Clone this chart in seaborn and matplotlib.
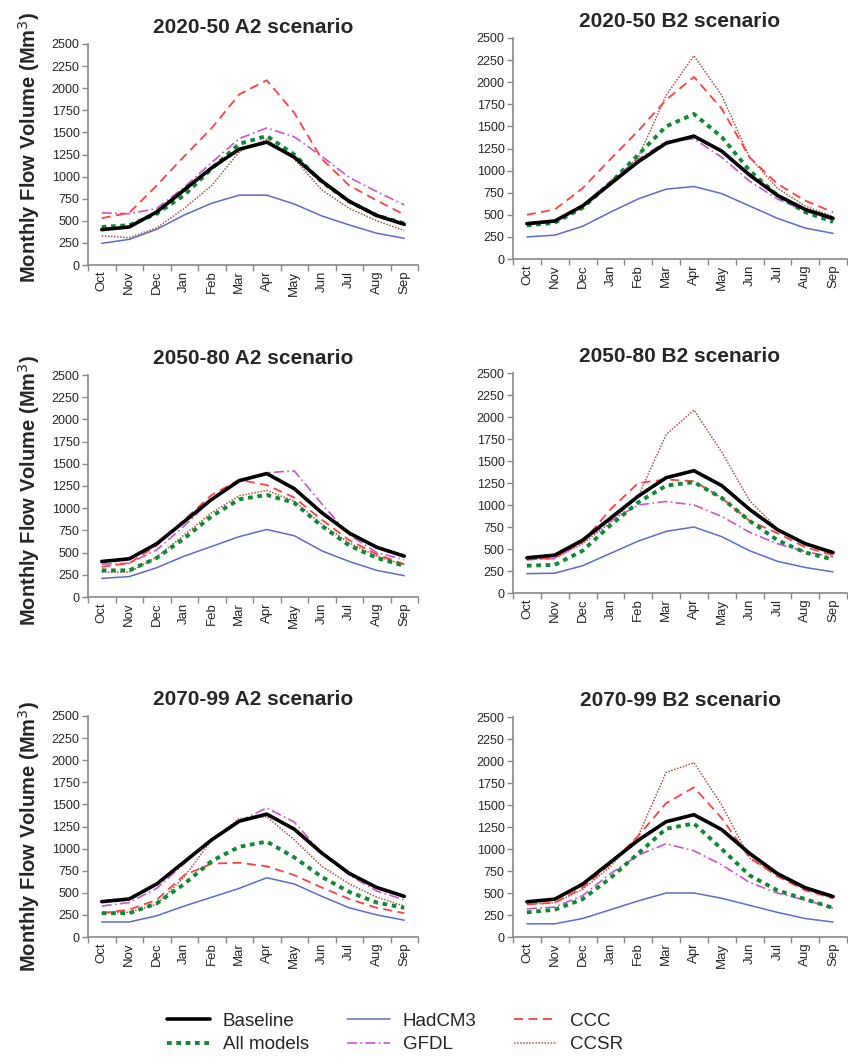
import numpy as np
import pandas as pd
import matplotlib
matplotlib.use("Agg")
import matplotlib.pyplot as plt
import seaborn as sns

# -----------------------------
# DATA
# -----------------------------

months = ["Oct", "Nov", "Dec", "Jan", "Feb", "Mar",
          "Apr", "May", "Jun", "Jul", "Aug", "Sep"]

baseline = [400, 430, 600, 850, 1100, 1310, 1390, 1220, 950, 720, 560, 460]

titles = ["2020-50 A2 scenario", "2020-50 B2 scenario",
          "2050-80 A2 scenario", "2050-80 B2 scenario",
          "2070-99 A2 scenario", "2070-99 B2 scenario"]

hadcm3 = [
    [245, 290, 404, 566, 699, 790, 790, 690, 555, 453, 359, 302],
    [250, 270, 370, 530, 680, 790, 820, 740, 600, 460, 350, 290],
    [210, 230, 330, 460, 570, 680, 760, 690, 520, 400, 300, 240],
    [220, 225, 310, 450, 590, 700, 750, 640, 480, 360, 290, 240],
    [170, 170, 240, 350, 450, 550, 670, 600, 460, 330, 250, 190],
    [150, 150, 210, 310, 410, 500, 500, 440, 360, 280, 210, 170],
]

ccc = [
    [530, 590, 900, 1230, 1550, 1930, 2090, 1720, 1200, 900, 730, 570],
    [500, 560, 800, 1130, 1450, 1800, 2060, 1700, 1150, 850, 660, 530],
    [340, 380, 580, 870, 1150, 1320, 1260, 1120, 870, 640, 480, 370],
    [380, 400, 580, 950, 1250, 1290, 1270, 1080, 820, 680, 520, 430],
    [270, 310, 420, 700, 830, 840, 800, 700, 560, 430, 330, 270],
    [370, 390, 560, 830, 1150, 1520, 1700, 1350, 900, 690, 530, 440],
]

gfdl = [
    [590, 580, 640, 880, 1160, 1430, 1550, 1450, 1230, 990, 830, 680],
    [390, 420, 610, 880, 1130, 1330, 1360, 1150, 880, 680, 540, 440],
    [370, 380, 530, 800, 1100, 1300, 1400, 1420, 1050, 700, 500, 420],
    [380, 390, 580, 820, 1000, 1040, 1000, 870, 690, 560, 470, 410],
    [350, 390, 550, 830, 1100, 1310, 1460, 1300, 950, 700, 520, 420],
    [320, 340, 470, 720, 930, 1060, 980, 820, 620, 500, 420, 330],
]

ccsr = [
    [330, 310, 420, 640, 900, 1280, 1420, 1200, 850, 640, 500, 390],
    [390, 430, 600, 850, 1150, 1850, 2300, 1850, 1150, 800, 600, 480],
    [280, 280, 450, 700, 950, 1140, 1200, 1080, 820, 610, 460, 360],
    [380, 400, 560, 800, 1100, 1800, 2080, 1600, 1050, 730, 560, 440],
    [270, 280, 370, 680, 1100, 1340, 1360, 1100, 800, 600, 450, 350],
    [370, 390, 540, 800, 1150, 1870, 1980, 1500, 900, 700, 540, 440],
]

all_models = [
    [430, 450, 580, 790, 1090, 1370, 1460, 1250, 940, 720, 560, 470],
    [380, 410, 580, 860, 1180, 1500, 1640, 1380, 1000, 720, 530, 420],
    [300, 300, 440, 660, 910, 1100, 1150, 1060, 800, 580, 440, 350],
    [310, 320, 480, 770, 1030, 1220, 1260, 1080, 820, 600, 460, 380],
    [270, 270, 380, 600, 860, 1020, 1080, 900, 680, 510, 390, 330],
    [280, 310, 430, 670, 950, 1230, 1290, 1000, 700, 530, 430, 330],
]

# -----------------------------
# STYLES
# -----------------------------

styles = {
    "Baseline": dict(color="black", lw=2.6, ls="-"),
    "HadCM3": dict(color="#5a6ccc", lw=1.1, ls="-"),
    "CCC": dict(color="#ff4040", lw=1.3, ls=(0, (5, 3))),
    "GFDL": dict(color="#cc55cc", lw=1.2, ls=(0, (6, 2, 1, 2))),
    "CCSR": dict(color="#aa5544", lw=1.1, ls=(0, (1, 1))),
    "All models": dict(color="#118833", lw=2.8, ls=(0, (1.2, 1.2))),
}

sns.set_style("white")
plt.rcParams["font.family"] = ["Liberation Sans", "DejaVu Sans"]

fig = plt.figure(figsize=(8.48, 10.61), dpi=100)
W, H = 848, 1061

# axes boxes in pixels: left, top, right, bottom
boxes = [
    (88, 44, 418, 265), (513, 38, 847, 259),
    (88, 375, 418, 597), (513, 373, 847, 593),
    (88, 716, 418, 937), (513, 717, 847, 937),
]
ylabel_y = [0.53, None, 0.48, None, 0.455, None]

draw_order = ["HadCM3", "CCSR", "GFDL", "CCC", "All models", "Baseline"]

for i, (l, t, r, b) in enumerate(boxes):
    ax = fig.add_axes([l / W, 1 - b / H, (r - l) / W, (b - t) / H])
    series = {
        "Baseline": baseline,
        "HadCM3": hadcm3[i],
        "CCC": ccc[i],
        "GFDL": gfdl[i],
        "CCSR": ccsr[i],
        "All models": all_models[i],
    }
    for name in draw_order:
        st = styles[name]
        sns.lineplot(x=months, y=series[name], ax=ax, color=st["color"],
                     lw=st["lw"], linestyle=st["ls"], label=name, legend=False)

    ax.set_xlim(-0.5, 11.5)
    ax.set_ylim(0, 2500)
    ax.set_yticks(np.arange(0, 2501, 250))
    ax.set_xticks(range(12))
    ax.set_xticklabels(months, rotation=90, fontsize=9.5)
    ax.set_xticks(np.arange(-0.5, 12, 1), minor=True)
    ax.tick_params(axis="x", which="major", length=0, pad=4)
    ax.tick_params(axis="x", which="minor", length=4, width=1, color="#888888",
                   direction="out", bottom=True)
    ax.tick_params(axis="y", length=4, width=1, color="#888888",
                   direction="out", left=True, labelsize=9, pad=2)
    for side in ["top", "right"]:
        ax.spines[side].set_visible(False)
    for side in ["left", "bottom"]:
        ax.spines[side].set_color("#888888")
        ax.spines[side].set_linewidth(1.2)
    ax.set_xlabel("")
    ax.set_title(titles[i], fontsize=15, fontweight="bold", pad=8)
    if i % 2 == 0:
        ax.set_ylabel("Monthly Flow Volume (Mm$^3$)", fontsize=14.5,
                      fontweight="bold")
        ax.yaxis.set_label_coords(-0.14, ylabel_y[i])

# -----------------------------
# LEGEND
# -----------------------------

legend_order = ["Baseline", "All models", "HadCM3", "GFDL", "CCC", "CCSR"]
handles = [plt.Line2D([], [], color=styles[n]["color"], lw=styles[n]["lw"],
                      linestyle=styles[n]["ls"]) for n in legend_order]
fig.legend(handles, legend_order, ncol=3, loc="center",
           bbox_to_anchor=(395 / W, 1 - 1033 / H), frameon=False,
           fontsize=13.5, handlelength=2.3, columnspacing=2.0,
           labelspacing=0.35, handletextpad=0.7)

fig.savefig("out.png", dpi=100)
